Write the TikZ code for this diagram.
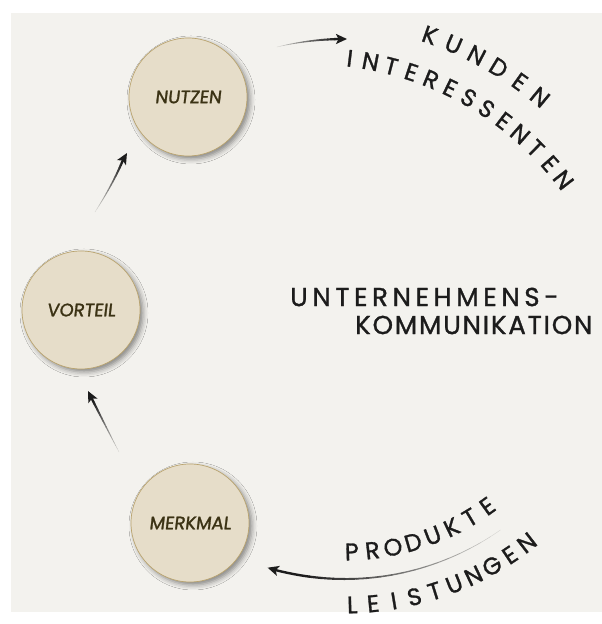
\documentclass[tikz,border=0pt]{standalone}
\usepackage{fontspec}
\setmainfont{Poppins}
\newfontfamily\handfont[FakeBold=1.2]{Poppins}
\newfontfamily\titlefontA[FakeBold=1.2,LetterSpace=18]{Poppins}
\newfontfamily\titlefontB[FakeBold=1.2,LetterSpace=7]{Poppins}
\newfontfamily\labelfont[FakeSlant=0.12,FakeBold=1.5]{Poppins}
\usetikzlibrary{calc,shadows.blur,arrows.meta}

\definecolor{paper}{HTML}{F3F2EE}
\definecolor{disc}{HTML}{E6DDC9}
\definecolor{rim}{HTML}{B9A36E}
\definecolor{ink}{HTML}{1C1C1C}
\definecolor{labelink}{HTML}{3B3214}

\tikzset{
  disc/.style={circle, minimum size=118pt, inner sep=0pt, fill=disc, draw=rim,
    line width=0.7pt,
    blur shadow={shadow xshift=3pt, shadow yshift=-3pt, shadow blur radius=5pt, shadow opacity=45},
    font=\labelfont\fontsize{18}{18}\selectfont, text=labelink},
  arcletter/.style={inner sep=0pt, font=\handfont\fontsize{24}{24}\selectfont, text=ink},
  bigtext/.style={inner sep=0pt, anchor=west, text=ink},
  tiphead/.style={-{Stealth[length=11pt,width=10pt,inset=2.5pt]}, line width=2.4pt, draw=ink}
}

% tapered stroke along a quadratic curve: tail, control, end of stroke
\newcommand\taperedstroke[3]{%
  \foreach \i in {0,...,17}{
    \pgfmathsetmacro\ta{\i/18}
    \pgfmathsetmacro\tb{(\i+1)/18}
    \pgfmathsetmacro\lw{0.2+2.2*\tb}
    \pgfmathsetmacro\shd{10+90*\tb}
    \draw[line width=\lw pt, draw=ink!\shd!paper, line cap=round]
      ($($(#1)!\ta!(#2)$)!\ta!($(#2)!\ta!(#3)$)$) --
      ($($(#1)!\tb!(#2)$)!\tb!($(#2)!\tb!(#3)$)$);
  }%
}

\begin{document}
\begin{tikzpicture}[x=1pt,y=1pt]
\useasboundingbox (0,0) rectangle (602,624);
\fill[white] (0,0) rectangle (602,624);
\fill[paper] (11,12) rectangle (602,611);

% the three discs
\node[disc] (nutzen) at (188,527) {NUTZEN};
\node[disc] (vorteil) at (81,314) {VORTEIL};
\node[disc] (merkmal) at (190,101) {MERKMAL};

% centres of the lettering arcs
\coordinate (topc) at (311,249);
\coordinate (lowc) at (345,316);

% arrow from VORTEIL up to NUTZEN
\coordinate (a1t) at (95,412);
\coordinate (a1c) at (113,440);
\coordinate (a1b) at (123,464);
\coordinate (a1h) at (127,471);
\taperedstroke{a1t}{a1c}{a1b}
\draw[tiphead] (a1b) -- (a1h);

% arrow from MERKMAL up to VORTEIL
\coordinate (a2t) at (119,172);
\coordinate (a2c) at (104,201);
\coordinate (a2b) at (92,225);
\coordinate (a2h) at (88,233);
\taperedstroke{a2t}{a2c}{a2b}
\draw[tiphead] (a2b) -- (a2h);

% arrow from NUTZEN towards the customers
\coordinate (a3t) at (277,577);
\coordinate (a3c) at (306,584);
\coordinate (a3b) at (338,585);
\coordinate (a3h) at (347,585);
\taperedstroke{a3t}{a3c}{a3b}
\draw[tiphead] (a3b) -- (a3h);

% curved arrow from the products back to MERKMAL
\foreach \i in {0,...,17}{
  \pgfmathsetmacro\aa{-55-45*\i/18}
  \pgfmathsetmacro\ab{-55-45*(\i+1)/18}
  \pgfmathsetmacro\lw{0.2+2.2*(\i+1)/18}
  \pgfmathsetmacro\shd{10+90*(\i+1)/18}
  \draw[line width=\lw pt, draw=ink!\shd!paper, line cap=round]
    ($(lowc)+(\aa:271)$) arc[start angle=\aa, end angle=\ab, radius=271];
}
\coordinate (a4b) at ($(lowc)+(-100:271)$);
\draw[tiphead] (a4b) arc[start angle=-100, end angle=-106.6, radius=271];

% lettering on the arcs
\foreach \ch [count=\i from 0] in {K,U,N,D,E,N}{
  \pgfmathsetmacro\ang{70.7-4.04*\i}
  \node[arcletter, rotate=\ang-90] (kunden\i) at ($(topc)+(\ang:360)$) {\ch};
}
\foreach \ch [count=\i from 0] in {I,N,T,E,R,E,S,S,E,N,T,E,N}{
  \pgfmathsetmacro\ang{83-3.775*\i}
  \node[arcletter, rotate=\ang-90] (inter\i) at ($(topc)+(\ang:319)$) {\ch};
}
\foreach \ch [count=\i from 0] in {P,R,O,D,U,K,T,E}{
  \pgfmathsetmacro\ang{-88.4+4.87*\i}
  \node[arcletter, rotate=\ang+90] (prod\i) at ($(lowc)+(\ang:244)$) {\ch};
}
\foreach \ch [count=\i from 0] in {L,E,I,S,T,U,N,G,E,N}{
  \pgfmathsetmacro\ang{-88.6+4.04*\i}
  \node[arcletter, rotate=\ang+90] (leist\i) at ($(lowc)+(\ang:297)$) {\ch};
}

% centre title
\node[bigtext, font=\titlefontA\fontsize{26}{26}\selectfont] (title1) at (290,327) {UNTERNEHMENS-};
\node[bigtext, font=\titlefontB\fontsize{26}{26}\selectfont] (title2) at (355,299) {KOMMUNIKATION};
\end{tikzpicture}
\end{document}
